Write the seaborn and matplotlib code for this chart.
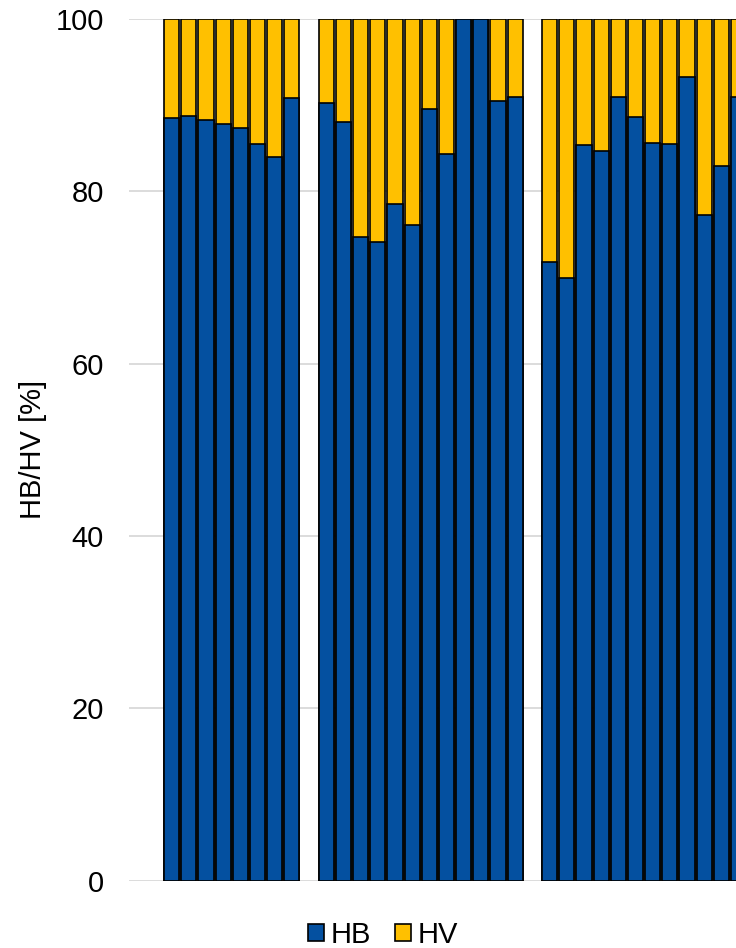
import numpy as np
import pandas as pd
import matplotlib
matplotlib.use('Agg')
import matplotlib.pyplot as plt
from matplotlib.patches import Patch
import seaborn as sns

# HB share [%] per sample, three groups; HV is the remainder to 100
group1_hb = [88.5, 88.7, 88.3, 87.8, 87.3, 85.5, 84.0, 90.8]
group2_hb = [90.3, 88.0, 74.7, 74.1, 78.5, 76.1, 89.5, 84.3, 100.0, 100.0, 90.5, 91.0]
group3_hb = [71.8, 69.9, 85.4, 84.7, 90.9, 88.6, 85.6, 85.5, 93.3, 77.2, 82.9, 90.9]
series_names = ['HB', 'HV']

blue = '#0450A0'
yellow = '#FFC000'

# build positions with one empty slot between groups
rows = []
pos = 0
for g, vals in enumerate([group1_hb, group2_hb, group3_hb]):
    for v in vals:
        rows.append({'pos': pos, 'group': g, 'HB': v, 'total': 100.0})
        pos += 1
    pos += 1
df = pd.DataFrame(rows)

sns.set_style('white')
plt.rcParams['font.family'] = ['Liberation Sans', 'DejaVu Sans']
plt.rcParams['text.color'] = 'black'
plt.rcParams['axes.labelcolor'] = 'black'
plt.rcParams['ytick.color'] = 'black'

fig = plt.figure(figsize=(7.36, 9.48), dpi=100)
ax = fig.add_axes([129 / 736, 1 - 880.5 / 948, 1 - 129 / 736, (880.5 - 19) / 948])

# HV on the bottom layer as full 100 bar, HB drawn over it
sns.barplot(data=df, x='pos', y='total', native_scale=True, color=yellow,
            saturation=1, width=0.88, edgecolor='black', linewidth=1.2, ax=ax, zorder=2)
sns.barplot(data=df, x='pos', y='HB', native_scale=True, color=blue,
            saturation=1, width=0.88, edgecolor='black', linewidth=1.2, ax=ax, zorder=3)

ax.set_xlim(-2.48, 32.85)
ax.set_ylim(0, 100)
ax.set_yticks([0, 20, 40, 60, 80, 100])
ax.set_xticks([])
ax.set_xlabel('')
ax.set_ylabel('HB/HV [%]', fontsize=21)
ax.yaxis.set_label_coords(-0.135, 0.5)
ax.tick_params(axis='y', labelsize=21, length=0, pad=18)
ax.grid(axis='y', color='#d9d9d9', linewidth=1.3, zorder=0)
ax.set_axisbelow(True)
for s in ax.spines.values():
    s.set_visible(False)

handles = [Patch(facecolor=blue, edgecolor='black', linewidth=1.2),
           Patch(facecolor=yellow, edgecolor='black', linewidth=1.2)]
fig.legend(handles, series_names, loc='center', bbox_to_anchor=(383 / 736, 1 - 935 / 948),
           ncol=2, frameon=False, fontsize=21, handlelength=0.55, handleheight=0.55,
           handletextpad=0.25, columnspacing=0.8, borderaxespad=0)

fig.savefig('out.png', dpi=100)
